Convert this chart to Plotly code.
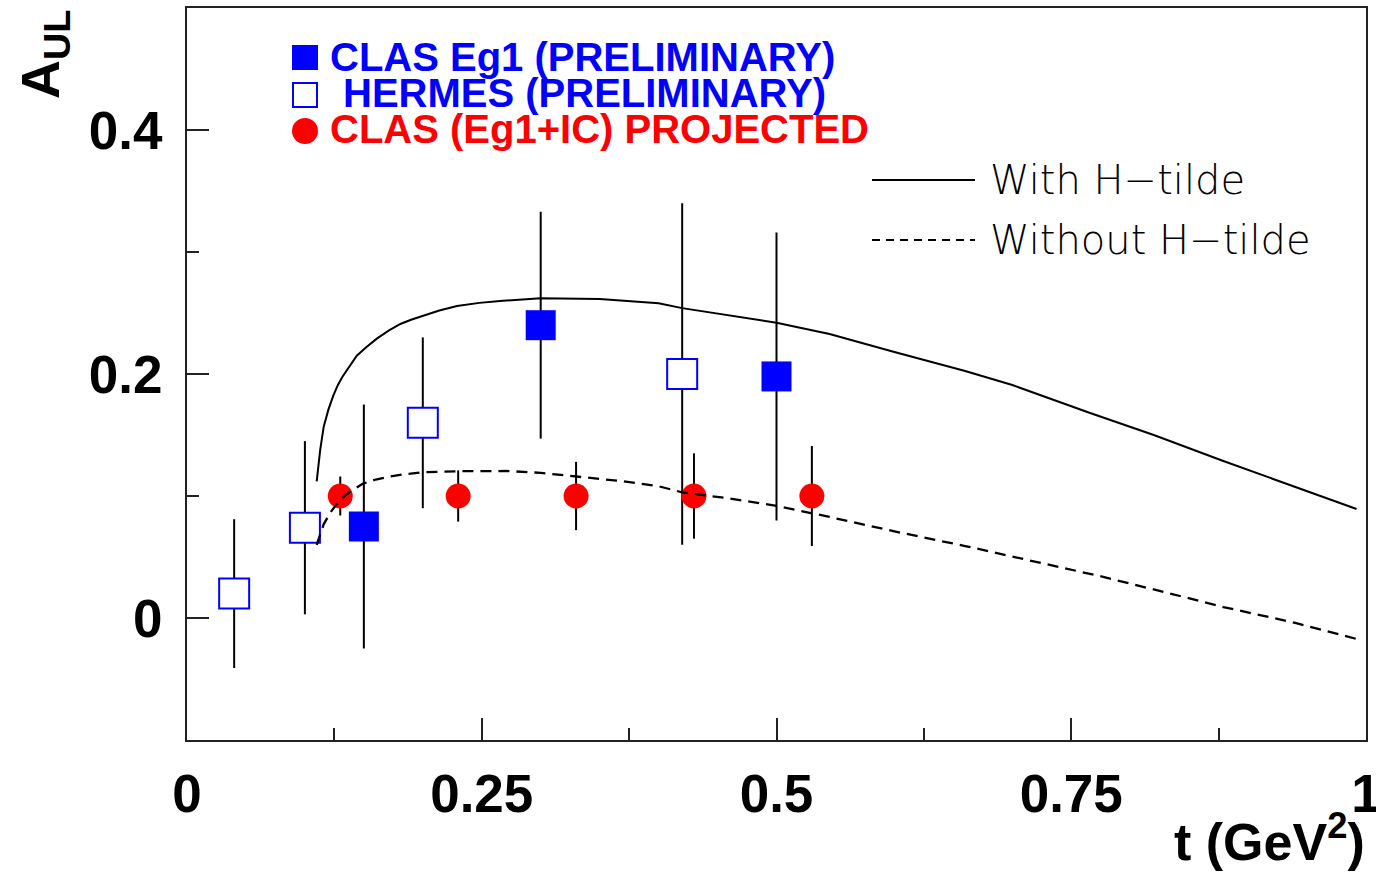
import plotly.graph_objects as go

# CLAS Eg1 preliminary (filled squares)
clas_t = [0.15, 0.30, 0.50]
clas_a = [0.075, 0.24, 0.198]
clas_err = [0.100, 0.093, 0.118]

# HERMES preliminary (open squares)
hermes_t = [0.04, 0.10, 0.20, 0.42]
hermes_a = [0.020, 0.074, 0.160, 0.200]
hermes_err = [0.061, 0.071, 0.070, 0.140]

# CLAS (Eg1+IC) projected (red circles)
proj_t = [0.13, 0.23, 0.33, 0.43, 0.53]
proj_a = [0.10, 0.10, 0.10, 0.10, 0.10]
proj_err = [0.016, 0.021, 0.028, 0.035, 0.041]

# Model curves
with_t = [0.110, 0.113, 0.116, 0.120, 0.124, 0.128, 0.132, 0.138, 0.144, 0.152,
          0.161, 0.171, 0.181, 0.190, 0.200, 0.214, 0.229, 0.248, 0.268, 0.300,
          0.350, 0.400, 0.420, 0.460, 0.500, 0.545, 0.600, 0.660, 0.700, 0.766,
          0.820, 0.879, 0.940, 0.992]
with_a = [0.112, 0.138, 0.157, 0.171, 0.182, 0.191, 0.198, 0.207, 0.215, 0.222,
          0.229, 0.2355, 0.241, 0.2445, 0.2475, 0.252, 0.2557, 0.2583, 0.260, 0.262,
          0.2615, 0.258, 0.254, 0.248, 0.242, 0.2328, 0.218, 0.2025, 0.191, 0.168,
          0.150, 0.1287, 0.1074, 0.0893]

without_t = [0.110, 0.113, 0.116, 0.122, 0.130, 0.139, 0.149, 0.160, 0.172, 0.186,
             0.200, 0.229, 0.271, 0.300, 0.330, 0.370, 0.400, 0.420, 0.460, 0.500,
             0.545, 0.600, 0.660, 0.720, 0.774, 0.830, 0.879, 0.940, 0.992]
without_a = [0.060, 0.069, 0.077, 0.087, 0.097, 0.104, 0.110, 0.1135, 0.116, 0.118,
             0.1195, 0.1203, 0.1205, 0.119, 0.116, 0.112, 0.108, 0.103, 0.098, 0.092,
             0.0828, 0.071, 0.059, 0.046, 0.0344, 0.021, 0.009, -0.004, -0.0172]

# Axis ticks
x_ticks = [0, 0.25, 0.5, 0.75, 1]
x_ticktext = ["0", "0.25", "0.5", "0.75", "1"]
y_ticks = [0, 0.2, 0.4]
y_ticktext = ["0", "0.2", "0.4"]

W, H = 1376, 872
L, R, T, B = 187, 1366, 8, 740
BLUE = "#0000ff"
RED = "#ff0000"
AXIS = "#222222"
BOLD = "Liberation Sans, Arial, sans-serif"
THIN = "DejaVu Sans, sans-serif"


def px(x):
    return (x - L) / (R - L)


def py(y):
    return (B - y) / (B - T)


err_style = dict(type="data", visible=True, thickness=2, width=0, color="black")

fig = go.Figure()

fig.add_trace(go.Scatter(
    x=hermes_t, y=hermes_a, mode="markers",
    error_y=dict(array=hermes_err, **err_style),
    marker=dict(symbol="square", size=30, color="white", line=dict(color=BLUE, width=2)),
))
fig.add_trace(go.Scatter(
    x=clas_t, y=clas_a, mode="markers",
    error_y=dict(array=clas_err, **err_style),
    marker=dict(symbol="square", size=30, color=BLUE, line=dict(width=0)),
))
fig.add_trace(go.Scatter(
    x=proj_t, y=proj_a, mode="markers",
    error_y=dict(array=proj_err, **err_style),
    marker=dict(symbol="circle", size=25, color=RED, line=dict(width=0)),
))
fig.add_trace(go.Scatter(
    x=with_t, y=with_a, mode="lines",
    line=dict(color="black", width=2),
))
fig.add_trace(go.Scatter(
    x=without_t, y=without_a, mode="lines",
    line=dict(color="black", width=2.3, dash="11px,7px"),
))

# Legend for data sets (upper left)
shapes = [
    dict(type="rect", xref="paper", yref="paper",
         x0=px(292), x1=px(318), y0=py(70), y1=py(45),
         fillcolor=BLUE, line=dict(width=0)),
    dict(type="rect", xref="paper", yref="paper",
         x0=px(293), x1=px(317), y0=py(107), y1=py(83),
         fillcolor="white", line=dict(color=BLUE, width=2)),
    dict(type="circle", xref="paper", yref="paper",
         x0=px(292), x1=px(318), y0=py(144), y1=py(118),
         fillcolor=RED, line=dict(width=0)),
    # Legend for model curves (upper right)
    dict(type="line", xref="paper", yref="paper",
         x0=px(872), x1=px(975), y0=py(180), y1=py(180),
         line=dict(color="black", width=2)),
    dict(type="line", xref="paper", yref="paper",
         x0=px(872), x1=px(975), y0=py(240), y1=py(240),
         line=dict(color="black", width=2, dash="8px,6px")),
]

annotations = [
    dict(text="CLAS Eg1 (PRELIMINARY)", x=px(328), y=py(57), color=BLUE),
    dict(text="HERMES (PRELIMINARY)", x=px(341), y=py(93), color=BLUE),
    dict(text="CLAS (Eg1+IC) PROJECTED", x=px(328), y=py(129), color=RED),
]
ann = []
for a in annotations:
    ann.append(dict(
        text=a["text"], x=a["x"], y=a["y"], xref="paper", yref="paper",
        xanchor="left", yanchor="middle", showarrow=False,
        font=dict(family=BOLD, size=40, color=a["color"], weight="bold"),
    ))
for text, yp in [("With H\u2212tilde", 180), ("Without H\u2212tilde", 240)]:
    ann.append(dict(
        text=text, x=px(988), y=py(yp), xref="paper", yref="paper",
        xanchor="left", yanchor="middle", showarrow=False,
        font=dict(family=THIN, size=40, color="black", weight=200),
    ))

# Axis titles
ann.append(dict(
    text="A<sub>UL</sub>", x=px(44), y=py(55), xref="paper", yref="paper",
    xanchor="center", yanchor="middle", textangle=-90, showarrow=False,
    font=dict(family=BOLD, size=54, color="black", weight="bold"),
))
ann.append(dict(
    text="t (GeV<sup>2</sup>)", x=px(1367), y=py(838), xref="paper", yref="paper",
    xanchor="right", yanchor="middle", showarrow=False,
    font=dict(family=BOLD, size=52, color="black", weight="bold"),
))

axis_common = dict(
    showgrid=False, zeroline=False, showline=True, linecolor=AXIS, linewidth=2,
    mirror=True, ticks="inside", tickcolor=AXIS, tickwidth=2, ticklen=22,
    tickfont=dict(family=BOLD, size=53, color="black", weight="bold"),
    ticklabeloverflow="allow",
)

fig.update_xaxes(
    range=[0, 1], tickmode="array", tickvals=x_ticks, ticktext=x_ticktext,
    minor=dict(dtick=0.125, tick0=0, ticks="inside", ticklen=12, tickwidth=2,
               tickcolor=AXIS, showgrid=False),
    ticklabelstandoff=6,
    **axis_common,
)
fig.update_yaxes(
    range=[-0.1, 0.5], tickmode="array", tickvals=y_ticks, ticktext=y_ticktext,
    minor=dict(dtick=0.1, tick0=0, ticks="inside", ticklen=12, tickwidth=2,
               tickcolor=AXIS, showgrid=False),
    ticklabelstandoff=12,
    **axis_common,
)

fig.update_layout(
    width=W, height=H,
    margin=dict(l=L, r=W - R, t=T, b=H - B, autoexpand=False),
    paper_bgcolor="white", plot_bgcolor="white",
    showlegend=False,
    shapes=shapes, annotations=ann,
)

fig.write_html("out.html")
